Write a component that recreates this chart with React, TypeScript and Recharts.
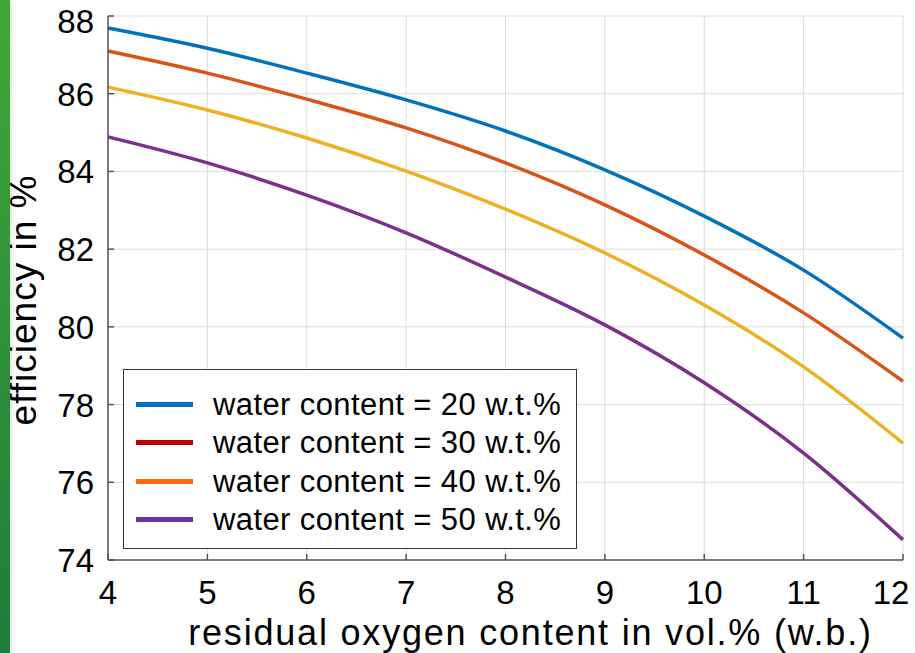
import { CartesianGrid, Line, LineChart, XAxis, YAxis } from "recharts";

const OXYGEN = [4, 5, 6, 7, 8, 9, 10, 11, 12];
const WATER_20 = [87.69, 87.17, 86.53, 85.84, 85.04, 84.04, 82.85, 81.46, 79.71];
const WATER_30 = [87.1, 86.53, 85.86, 85.12, 84.22, 83.14, 81.85, 80.36, 78.6];
const WATER_40 = [86.17, 85.58, 84.86, 84.01, 83.03, 81.9, 80.56, 78.97, 77.01];
const WATER_50 = [84.89, 84.22, 83.39, 82.42, 81.28, 80.05, 78.56, 76.75, 74.52];
const Y_TICKS = [74, 76, 78, 80, 82, 84, 86, 88];
const X_TICKS = [4, 5, 6, 7, 8, 9, 10, 11, 12];

// line colours are MATLAB defaults, legend swatches use their own colours in the original
const SERIES = [
  { key: "w20", label: "water content = 20 w.t.%", line: "#0072bd", swatch: "#0070c0" },
  { key: "w30", label: "water content = 30 w.t.%", line: "#d95319", swatch: "#c00000" },
  { key: "w40", label: "water content = 40 w.t.%", line: "#edb120", swatch: "#ff6a10" },
  { key: "w50", label: "water content = 50 w.t.%", line: "#7e2f8e", swatch: "#7030a0" },
];

const data = OXYGEN.map((x, i) => ({
  x,
  w20: WATER_20[i],
  w30: WATER_30[i],
  w40: WATER_40[i],
  w50: WATER_50[i],
}));

const FONT = "'Liberation Sans', Arial, sans-serif";

// end labels are pulled in a bit so they stay on the page, like the original
function XTick({ x, y, payload }: any) {
  const last = payload.value === X_TICKS[X_TICKS.length - 1];
  return (
    <text x={last ? x - 12 : x} y={y + 34} textAnchor="middle" fill="#000" fontSize={33} fontFamily={FONT}>
      {payload.value}
    </text>
  );
}

function YTick({ x, y, payload }: any) {
  const top = payload.value === Y_TICKS[Y_TICKS.length - 1];
  return (
    <text x={x - 8} y={(top ? y + 5 : y) + 12} textAnchor="end" fill="#000" fontSize={33} fontFamily={FONT}>
      {payload.value}
    </text>
  );
}

function LegendBox() {
  return (
    <div
      style={{
        position: "absolute",
        left: 123,
        top: 369,
        border: "1.5px solid #333",
        background: "#fff",
        width: 454,
        height: 180,
        boxSizing: "border-box",
        padding: "15px 0 0 12px",
        fontFamily: FONT,
        fontSize: 31,
        letterSpacing: 0.4,
        lineHeight: 1,
        color: "#000",
      }}
    >
      {SERIES.map((s) => (
        <div key={s.key} style={{ display: "flex", alignItems: "center", height: 38.5 }}>
          <span style={{ display: "inline-block", width: 57, height: 5, background: s.swatch, marginRight: 20 }} />
          <span>{s.label}</span>
        </div>
      ))}
    </div>
  );
}

export default function App() {
  return (
    <div style={{ position: "fixed", left: 0, top: 0, width: 915, height: 653, background: "#fff", overflow: "hidden" }}>
      <LineChart width={915} height={653} data={data} margin={{ top: 16, right: 12, left: 0, bottom: 0 }}>
        <CartesianGrid stroke="#dcdcdc" strokeWidth={1} />
        <XAxis
          dataKey="x"
          type="number"
          domain={[4, 12]}
          ticks={X_TICKS}
          interval={0}
          height={93}
          stroke="#555"
          strokeWidth={1.5}
          tickSize={-6}
          tickMargin={16}
          tick={<XTick />}
          label={{
            value: "residual oxygen content in vol.% (w.b.)",
            position: "insideBottom",
            offset: 8,
            dx: 25,
            fill: "#000",
            fontSize: 36,
            fontFamily: FONT,
            letterSpacing: 1.8,
          }}
        />
        <YAxis
          type="number"
          domain={[74, 88]}
          ticks={Y_TICKS}
          interval={0}
          width={108}
          stroke="#555"
          strokeWidth={1.5}
          tickSize={-6}
          tickMargin={12}
          tick={<YTick />}
          label={{
            content: () => (
              <text
                transform="translate(36,300) rotate(-90)"
                textAnchor="middle"
                fill="#000"
                fontSize={37}
                fontFamily={FONT}
                letterSpacing={1}
              >
                efficiency in %
              </text>
            ),
          }}
        />
        <XAxis xAxisId="top" dataKey="x" type="number" domain={[4, 12]} orientation="top" height={0} tick={false} stroke="#555" strokeWidth={1.5} />
        <YAxis yAxisId="right" type="number" domain={[74, 88]} orientation="right" width={0} tick={false} stroke="#555" strokeWidth={1.5} />
        {SERIES.map((s) => (
          <Line
            key={s.key}
            type="monotone"
            dataKey={s.key}
            stroke={s.line}
            strokeWidth={3.5}
            dot={false}
            isAnimationActive={false}
          />
        ))}
      </LineChart>
      <LegendBox />
      <div
        style={{
          position: "absolute",
          left: 0,
          top: 0,
          width: 10,
          height: 653,
          background: "linear-gradient(#40a836, #1f7d3b)",
          boxShadow: "2px 0 4px rgba(0,0,0,0.12)",
        }}
      />
    </div>
  );
}
